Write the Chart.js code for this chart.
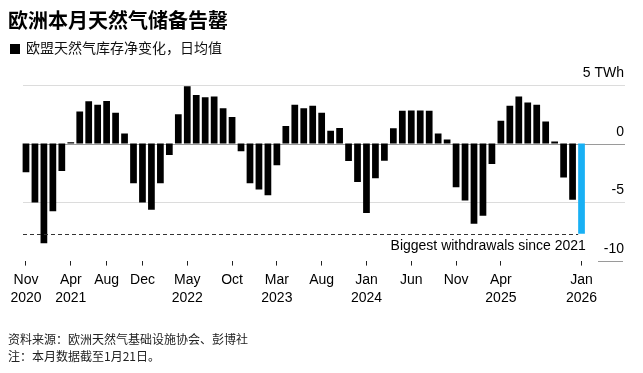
<!DOCTYPE html>
<html>
<head>
<meta charset="utf-8">
<script src="https://cdn.jsdelivr.net/npm/chart.js@4"></script>
<style>
  html, body { margin:0; padding:0; background:#fff; }
  #wrap { position:relative; width:643px; height:373px; overflow:hidden; }
  #c { position:absolute; left:0; top:0; }
  .t { position:absolute; white-space:nowrap; font-family:"Noto Sans CJK SC","Liberation Sans",sans-serif; }
  #title { left:8px; top:8px; font-size:20px; line-height:24px; font-weight:700; color:#000; }
  #sub { left:10px; top:39px; font-size:14px; line-height:16px; color:#111; }
  #sub .sq { display:inline-block; width:10px; height:10px; background:#000; margin-right:6px; vertical-align:-1px; }
  #src { left:8px; top:331px; font-size:12px; line-height:16.7px; color:#222; }
</style>
</head>
<body>
<div id="wrap">
  <canvas id="c" width="643" height="373"></canvas>
  <div id="title" class="t">欧洲本月天然气储备告罄</div>
  <div id="sub" class="t"><span class="sq"></span>欧盟天然气库存净变化，日均值</div>
  <div id="src" class="t">资料来源：欧洲天然气基础设施协会、彭博社<br>注：本月数据截至1月21日。</div>
</div>
<script>
// ---- data ----
const months = [
  '2020-11','2020-12',
  '2021-01','2021-02','2021-03','2021-04','2021-05','2021-06','2021-07','2021-08','2021-09','2021-10','2021-11','2021-12',
  '2022-01','2022-02','2022-03','2022-04','2022-05','2022-06','2022-07','2022-08','2022-09','2022-10','2022-11','2022-12',
  '2023-01','2023-02','2023-03','2023-04','2023-05','2023-06','2023-07','2023-08','2023-09','2023-10','2023-11','2023-12',
  '2024-01','2024-02','2024-03','2024-04','2024-05','2024-06','2024-07','2024-08','2024-09','2024-10','2024-11','2024-12',
  '2025-01','2025-02','2025-03','2025-04','2025-05','2025-06','2025-07','2025-08','2025-09','2025-10','2025-11','2025-12',
  '2026-01'
];
const netChangeTWh = [
  -2.46, -5.03,
  -8.53, -5.79, -2.34, 0.10, 2.74, 3.62, 3.31, 3.64, 2.63, 0.85, -3.39, -5.03,
  -5.65, -3.39, -0.99, 2.51, 4.89, 4.15, 3.95, 4.01, 3.02, 2.26, -0.65, -3.39,
  -3.93, -4.41, -1.86, 1.50, 3.31, 3.02, 3.22, 2.63, 1.10, 1.33, -1.50, -3.28,
  -5.93, -2.97, -1.47, 1.30, 2.80, 2.82, 2.82, 2.80, 0.85, 0.34, -3.73, -4.86,
  -6.85, -6.16, -1.75, 1.95, 3.22, 4.01, 3.50, 3.31, 1.89, 0.17, -2.91, -4.80,
  -7.71
];
const xTickMonths = ['2020-11','2021-04','2021-08','2021-12','2022-05','2022-10','2023-03','2023-08','2024-01','2024-06','2024-11','2025-04','2026-01'];
const xTickLabels = [['Nov','2020'],['Apr','2021'],['Aug'],['Dec'],['May','2022'],['Oct'],['Mar','2023'],['Aug'],['Jan','2024'],['Jun'],['Nov'],['Apr','2025'],['Jan','2026']];
const yTickValues = [5, 0, -5, -10];
const yTickLabels = ['5 TWh', '0', '-5', '-10'];
const annotationText = 'Biggest withdrawals since 2021';

const latin = '"Liberation Sans", Arial, sans-serif';
const lastIdx = netChangeTWh.length - 1;

const decor = {
  id: 'decor',
  beforeDatasetsDraw(chart) {
    const {ctx, chartArea, scales: {y}} = chart;
    ctx.save();
    yTickValues.forEach(v => {
      const py = Math.round(y.getPixelForValue(v)) + 0.5;
      ctx.beginPath();
      ctx.lineWidth = 1;
      if (v === 0) { ctx.strokeStyle = '#9a9a9a'; ctx.moveTo(chartArea.left + 1.5, py); ctx.lineTo(625, py); }
      else if (v === -10) { ctx.strokeStyle = '#9a9a9a'; ctx.moveTo(598, py); ctx.lineTo(623, py); }
      else { ctx.strokeStyle = '#dcdcdc'; ctx.moveTo(chartArea.left + 1.5, py); ctx.lineTo(625, py); }
      ctx.stroke();
    });
    ctx.restore();
  },
  afterDatasetsDraw(chart) {
    const {ctx, chartArea, scales: {x, y}} = chart;
    ctx.save();
    const py = Math.round(y.getPixelForValue(netChangeTWh[lastIdx])) + 0.5;
    const meta = chart.getDatasetMeta(0);
    const bar = meta.data[lastIdx];
    const xEnd = bar.x - bar.width / 2;
    ctx.beginPath();
    ctx.setLineDash([4, 3]);
    ctx.strokeStyle = '#333';
    ctx.lineWidth = 1;
    ctx.moveTo(chartArea.left + 1.5, py);
    ctx.lineTo(xEnd, py);
    ctx.stroke();
    ctx.setLineDash([]);
    ctx.fillStyle = '#000';
    ctx.font = '14px ' + latin;
    ctx.textAlign = 'right';
    ctx.textBaseline = 'alphabetic';
    ctx.fillText(annotationText, bar.x + bar.width / 2 + 1, py + 15.5);
    // y labels
    yTickValues.forEach((v, i) => {
      const gy = y.getPixelForValue(v);
      ctx.fillText(yTickLabels[i], 624, gy - 8);
    });
    ctx.restore();
  }
};

new Chart(document.getElementById('c'), {
  type: 'bar',
  data: {
    labels: months,
    datasets: [{
      data: netChangeTWh,
      backgroundColor: netChangeTWh.map((v, i) => i === lastIdx ? '#18b0f4' : '#000000'),
      borderWidth: 0,
      categoryPercentage: 1.0,
      barPercentage: 0.75
    }]
  },
  options: {
    responsive: false,
    animation: false,
    devicePixelRatio: 1,
    layout: { padding: { left: 21.5, right: 57, top: 85, bottom: 60 } },
    plugins: { legend: { display: false }, tooltip: { enabled: false } },
    scales: {
      x: {
        border: { display: false },
        grid: { display: true, drawOnChartArea: false, drawTicks: true, tickLength: 5, offset: false, tickColor: '#222', lineWidth: 1 },
        ticks: {
          autoSkip: false, maxRotation: 0, minRotation: 0, padding: 6,
          color: '#000',
          font: { family: latin, size: 14, lineHeight: 1.265 },
          callback: function(value, index) {
            const k = xTickMonths.indexOf(months[index]);
            return k >= 0 ? xTickLabels[k] : null;
          }
        }
      },
      y: { display: false, min: -10, max: 5 }
    }
  },
  plugins: [decor]
});
</script>
</body>
</html>
